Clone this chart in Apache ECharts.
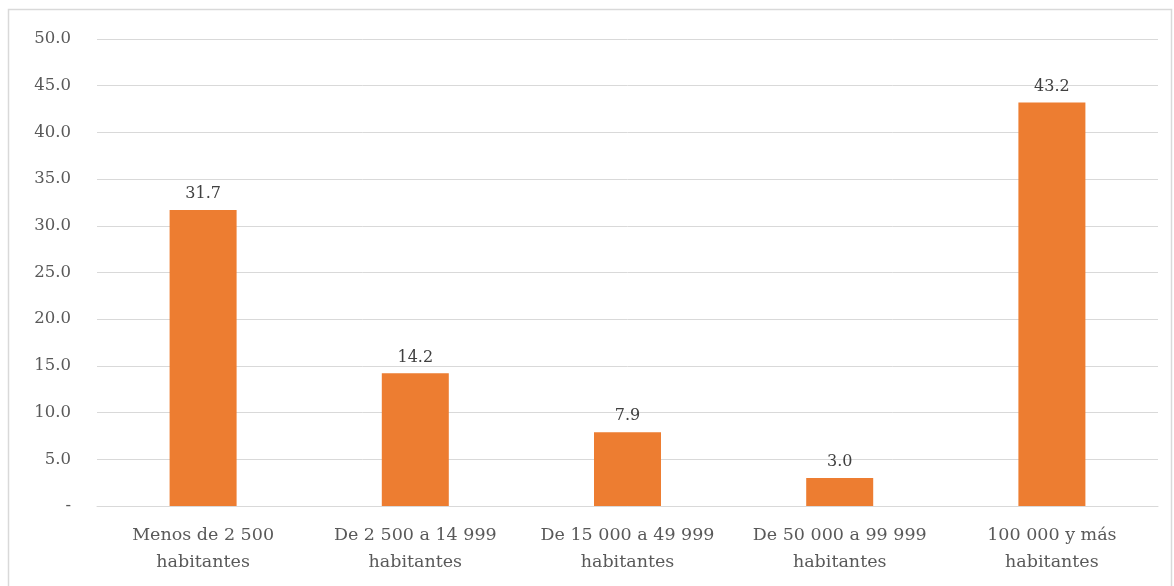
<!DOCTYPE html>
<html><head><meta charset="utf-8">
<script src="https://cdn.jsdelivr.net/npm/echarts@6/dist/echarts.min.js"></script>
<style>html,body{margin:0;padding:0;background:#fff}#c{width:1174px;height:586px}</style>
</head><body><div id="c"></div>
<script>
const categories = ["Menos de 2 500\nhabitantes","De 2 500 a 14 999\nhabitantes","De 15 000 a 49 999\nhabitantes","De 50 000 a 99 999\nhabitantes","100 000 y más\nhabitantes"];
const values = [31.7, 14.2, 7.9, 3.0, 43.2];
const FONT = '"DejaVu Serif", "Liberation Serif", serif';
const chart = echarts.init(document.getElementById('c'), null, {renderer:'canvas'});
chart.setOption({
  animation:false,
  backgroundColor:'#fff',
  graphic:[{type:'rect',shape:{x:8.5,y:9.5,width:1163,height:600},style:{fill:'none',stroke:'#D9D9D9',lineWidth:1.5},silent:true}],
  grid:{left:97,right:16,top:39,bottom:80,containLabel:false},
  xAxis:{type:'category',data:categories,
    axisLine:{lineStyle:{color:'#D9D9D9'}},axisTick:{show:false},
    axisLabel:{color:'#595959',fontFamily:FONT,fontSize:17.5,lineHeight:27,margin:16,interval:0}},
  yAxis:{type:'value',min:0,max:50,interval:5,
    axisLine:{show:false},axisTick:{show:false},
    splitLine:{lineStyle:{color:'#D9D9D9',width:1}},
    axisLabel:{color:'#595959',fontFamily:FONT,fontSize:16.5,margin:26,
      formatter:v=>v===0?'-':v.toFixed(1)}},
  series:[{type:'bar',data:values,barWidth:67,itemStyle:{color:'#ED7D31'},
    label:{show:true,position:'top',distance:8,color:'#404040',fontFamily:FONT,fontSize:16,
      formatter:p=>p.value.toFixed(1)}}]
});
</script></body></html>
